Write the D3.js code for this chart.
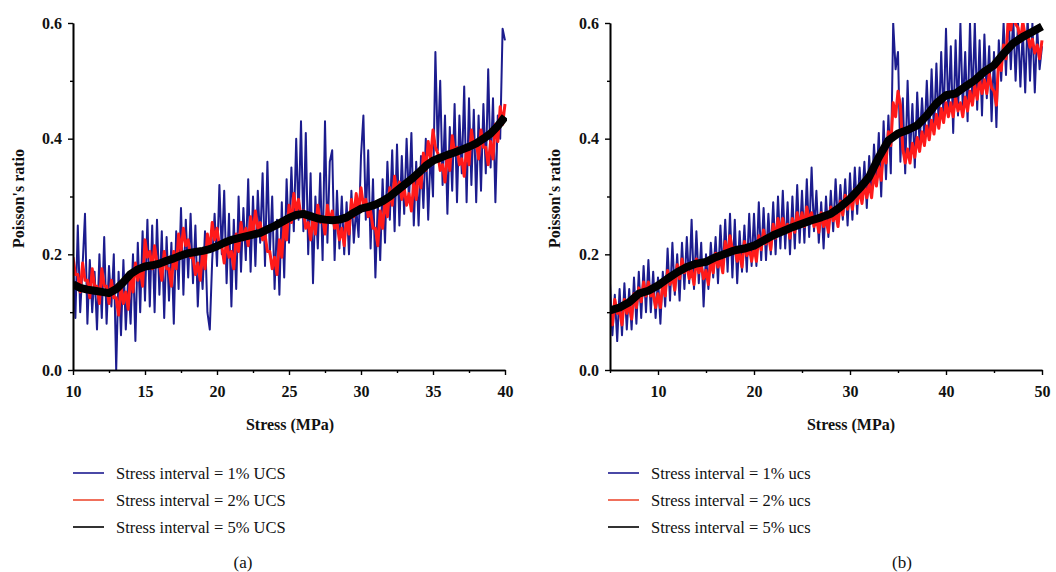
<!DOCTYPE html>
<html>
<head>
<meta charset="utf-8">
<script src="https://cdn.jsdelivr.net/npm/d3@7/dist/d3.min.js"></script>
<style>
  html, body { margin: 0; padding: 0; background: #fff; }
  svg { display: block; }
</style>
</head>
<body>
<svg id="chart" width="1056" height="572"></svg>
<script>
// ---------------- DATA ----------------
// Panel (a): stress range 10..40 MPa, samples evenly spaced along stress
const stressRangeA = [10, 40];
const xTicksA = [10, 15, 20, 25, 30, 35, 40];
const xMinorA = [12.5, 17.5, 22.5, 27.5, 32.5, 37.5];
// Panel (b): stress range 5..50 MPa
const stressRangeB = [5, 50];
const xTicksB = [10, 20, 30, 40, 50];
const xMinorB = [5, 15, 25, 35, 45];
const yTicks = [0, 0.2, 0.4, 0.6];
const yMinor = [0.1, 0.3, 0.5];

// (a) Stress interval = 1% UCS
const blueA = [
  0.19, 0.09, 0.25, 0.10, 0.18, 0.27,
  0.08, 0.19, 0.10, 0.17, 0.07, 0.20,
  0.09, 0.23, 0.08, 0.18, 0.11, 0.20,
  0.00, 0.17, 0.06, 0.19, 0.07, 0.16,
  0.08, 0.20, 0.05, 0.22, 0.10, 0.24,
  0.12, 0.26, 0.11, 0.25, 0.10, 0.26,
  0.13, 0.24, 0.09, 0.23, 0.12, 0.22,
  0.08, 0.24, 0.14, 0.28, 0.13, 0.26,
  0.16, 0.27, 0.15, 0.25, 0.11, 0.21,
  0.14, 0.24, 0.10, 0.07, 0.19, 0.27,
  0.18, 0.32, 0.20, 0.31, 0.15, 0.27,
  0.11, 0.26, 0.14, 0.30, 0.17, 0.28,
  0.19, 0.33, 0.17, 0.30, 0.18, 0.31,
  0.22, 0.34, 0.18, 0.36, 0.20, 0.30,
  0.14, 0.26, 0.13, 0.29, 0.16, 0.33,
  0.22, 0.35, 0.24, 0.40, 0.26, 0.43,
  0.24, 0.41, 0.20, 0.34, 0.15, 0.30,
  0.21, 0.34, 0.19, 0.43, 0.22, 0.36,
  0.38, 0.19, 0.31, 0.21, 0.30, 0.20,
  0.29, 0.20, 0.31, 0.22, 0.28, 0.23,
  0.37, 0.44, 0.26, 0.38, 0.21, 0.33,
  0.16, 0.29, 0.19, 0.33, 0.22, 0.36,
  0.26, 0.38, 0.24, 0.39, 0.25, 0.37,
  0.27, 0.40, 0.29, 0.41, 0.25, 0.36,
  0.25, 0.37, 0.28, 0.40, 0.26, 0.38,
  0.30, 0.55, 0.38, 0.50, 0.32, 0.44,
  0.27, 0.42, 0.31, 0.46, 0.29, 0.44,
  0.34, 0.49, 0.29, 0.47, 0.32, 0.45,
  0.29, 0.44, 0.31, 0.46, 0.34, 0.52,
  0.35, 0.47, 0.29, 0.44, 0.40, 0.59,
  0.57
];
// (a) Stress interval = 2% UCS
const redA = [
  0.195, 0.165, 0.165, 0.135, 0.185, 0.155,
  0.155, 0.125, 0.175, 0.145, 0.145, 0.115,
  0.175, 0.145, 0.145, 0.115, 0.155, 0.125,
  0.125, 0.095, 0.145, 0.115, 0.135, 0.105,
  0.165, 0.135, 0.185, 0.155, 0.175, 0.145,
  0.225, 0.195, 0.205, 0.175, 0.215, 0.185,
  0.185, 0.155, 0.205, 0.175, 0.175, 0.145,
  0.205, 0.175, 0.235, 0.205, 0.245, 0.215,
  0.225, 0.195, 0.195, 0.165, 0.185, 0.155,
  0.205, 0.175, 0.235, 0.205, 0.255, 0.225,
  0.245, 0.215, 0.215, 0.185, 0.225, 0.195,
  0.205, 0.175, 0.235, 0.205, 0.255, 0.225,
  0.245, 0.215, 0.265, 0.235, 0.275, 0.245,
  0.255, 0.225, 0.235, 0.205, 0.205, 0.175,
  0.195, 0.165, 0.225, 0.195, 0.255, 0.225,
  0.285, 0.255, 0.305, 0.275, 0.295, 0.265,
  0.275, 0.245, 0.255, 0.225, 0.265, 0.235,
  0.285, 0.255, 0.265, 0.235, 0.285, 0.255,
  0.275, 0.245, 0.255, 0.225, 0.245, 0.215,
  0.265, 0.235, 0.295, 0.265, 0.305, 0.275,
  0.315, 0.285, 0.295, 0.265, 0.275, 0.245,
  0.245, 0.215, 0.275, 0.245, 0.295, 0.265,
  0.315, 0.285, 0.335, 0.305, 0.325, 0.295,
  0.315, 0.285, 0.305, 0.275, 0.325, 0.295,
  0.345, 0.315, 0.375, 0.345, 0.395, 0.365,
  0.415, 0.385, 0.375, 0.345, 0.355, 0.325,
  0.375, 0.345, 0.405, 0.375, 0.385, 0.355,
  0.365, 0.335, 0.385, 0.355, 0.415, 0.385,
  0.395, 0.365, 0.415, 0.385, 0.385, 0.355,
  0.395, 0.365, 0.425, 0.395, 0.455, 0.425,
  0.46
];
// (a) Stress interval = 5% UCS
const blackA = [
  0.148, 0.142, 0.139, 0.137, 0.135, 0.133, 0.140, 0.152, 0.166, 0.174,
  0.179, 0.181, 0.184, 0.189, 0.193, 0.198, 0.202, 0.204, 0.206, 0.209,
  0.214, 0.220, 0.225, 0.228, 0.231, 0.234, 0.237, 0.243, 0.249, 0.256,
  0.263, 0.268, 0.270, 0.266, 0.262, 0.260, 0.259, 0.260, 0.264, 0.272,
  0.279, 0.282, 0.286, 0.292, 0.300, 0.310, 0.320, 0.330, 0.341, 0.353,
  0.362, 0.367, 0.372, 0.376, 0.381, 0.386, 0.392, 0.400, 0.409, 0.422,
  0.438
];

// (b) Stress interval = 1% ucs
const blueB = [
  0.15, 0.06, 0.13, 0.05,  0.14, 0.06, 0.15, 0.07,  0.14, 0.07, 0.16, 0.08,
  0.17, 0.09, 0.18, 0.10,  0.19, 0.10, 0.17, 0.09,  0.16, 0.08, 0.17, 0.11,
  0.21, 0.12, 0.22, 0.13,  0.20, 0.12, 0.22, 0.14,  0.23, 0.15, 0.26, 0.14,
  0.24, 0.15, 0.22, 0.11,  0.20, 0.14, 0.22, 0.16,  0.23, 0.15, 0.25, 0.17,
  0.26, 0.17, 0.27, 0.16,  0.26, 0.15, 0.24, 0.17,  0.25, 0.17, 0.27, 0.18,
  0.27, 0.18, 0.29, 0.19,  0.28, 0.19, 0.27, 0.20,  0.29, 0.20, 0.30, 0.21,
  0.31, 0.21, 0.29, 0.20,  0.30, 0.21, 0.32, 0.22,  0.31, 0.22, 0.33, 0.23,
  0.35, 0.24, 0.31, 0.22,  0.29, 0.21, 0.30, 0.23,  0.31, 0.24, 0.33, 0.25,
  0.32, 0.26, 0.33, 0.25,  0.34, 0.26, 0.35, 0.27,  0.35, 0.29, 0.36, 0.28,
  0.37, 0.30, 0.39, 0.32,  0.41, 0.30, 0.43, 0.33,  0.44, 0.34, 0.60, 0.52,
  0.55, 0.36, 0.47, 0.34,  0.50, 0.37, 0.46, 0.35,  0.48, 0.39, 0.47, 0.40,
  0.50, 0.40, 0.52, 0.41,  0.53, 0.42, 0.55, 0.43,  0.59, 0.44, 0.56, 0.41,
  0.57, 0.44, 0.60, 0.45,  0.55, 0.43, 0.60, 0.46,  0.60, 0.45, 0.57, 0.44,
  0.58, 0.47, 0.56, 0.43,  0.55, 0.42, 0.57, 0.50,  0.60, 0.51, 0.62, 0.52,
  0.61, 0.50, 0.60, 0.49,  0.59, 0.48, 0.61, 0.50,  0.60, 0.48, 0.59, 0.52,
  0.56
];
// (b) Stress interval = 2% ucs
const redB = [
  0.102, 0.078, 0.122, 0.098,  0.102, 0.078, 0.122, 0.098,  0.112, 0.088, 0.132, 0.108,
  0.142, 0.118, 0.152, 0.128,  0.152, 0.128, 0.132, 0.108,  0.132, 0.108, 0.152, 0.128,
  0.172, 0.148, 0.162, 0.138,  0.182, 0.158, 0.192, 0.168,  0.182, 0.158, 0.172, 0.148,
  0.192, 0.168, 0.182, 0.158,  0.172, 0.148, 0.192, 0.168,  0.202, 0.178, 0.192, 0.168,
  0.222, 0.198, 0.232, 0.208,  0.212, 0.188, 0.202, 0.178,  0.222, 0.198, 0.212, 0.188,
  0.212, 0.188, 0.232, 0.208,  0.242, 0.218, 0.232, 0.208,  0.252, 0.228, 0.262, 0.238,
  0.262, 0.238, 0.252, 0.228,  0.262, 0.238, 0.272, 0.248,  0.272, 0.248, 0.282, 0.258,
  0.272, 0.248, 0.262, 0.238,  0.272, 0.248, 0.262, 0.238,  0.282, 0.258, 0.272, 0.248,
  0.292, 0.268, 0.302, 0.278,  0.302, 0.278, 0.312, 0.288,  0.312, 0.288, 0.322, 0.298,
  0.322, 0.298, 0.342, 0.318,  0.352, 0.328, 0.382, 0.358,  0.412, 0.388, 0.462, 0.438,
  0.482, 0.458, 0.382, 0.358,  0.382, 0.358, 0.392, 0.368,  0.402, 0.378, 0.412, 0.388,
  0.422, 0.398, 0.432, 0.408,  0.442, 0.418, 0.452, 0.428,  0.462, 0.438, 0.462, 0.438,
  0.472, 0.448, 0.462, 0.438,  0.472, 0.448, 0.482, 0.458,  0.492, 0.468, 0.502, 0.478,
  0.502, 0.478, 0.512, 0.488,  0.482, 0.458, 0.542, 0.518,  0.562, 0.538, 0.612, 0.588,
  0.622, 0.598, 0.592, 0.568,  0.602, 0.578, 0.582, 0.558,  0.572, 0.548, 0.562, 0.538,
  0.57
];
// (b) Stress interval = 5% ucs
const blackB = [
  0.103, 0.108, 0.117, 0.132, 0.137, 0.146, 0.158, 0.169, 0.178, 0.184,
  0.187, 0.195, 0.201, 0.207, 0.210, 0.215, 0.224, 0.233, 0.240, 0.247,
  0.253, 0.259, 0.264, 0.270, 0.282, 0.296, 0.314, 0.334, 0.368, 0.397,
  0.409, 0.415, 0.423, 0.440, 0.461, 0.475, 0.478, 0.490, 0.501, 0.516,
  0.527, 0.547, 0.565, 0.576, 0.585, 0.594
];

const legendA = ["Stress interval = 1% UCS", "Stress interval = 2% UCS", "Stress interval = 5% UCS"];
const legendB = ["Stress interval = 1% ucs", "Stress interval = 2% ucs", "Stress interval = 5% ucs"];
const panelLabels = ["(a)", "(b)"];
const yTitle = "Poisson's ratio";
const xTitle = "Stress (MPa)";

// ---------------- STYLE ----------------
const seriesColors = ["#1c1c8e", "#ff1a1a", "#000000"];
const seriesWidths = [2, 3, 8];
const legendColors = ["#4a48a6", "#f0705c", "#333333"];
const FONT = "'Liberation Serif', 'Times New Roman', serif";

const svg = d3.select("#chart");

function drawPanel(cfg) {
  const g = svg.append("g");
  const x = d3.scaleLinear().domain(cfg.range).range([cfg.left, cfg.right]);
  const y = d3.scaleLinear().domain([0, 0.6]).range([cfg.bottom, cfg.top]);

  const clipId = "clip" + cfg.id;
  svg.append("clipPath").attr("id", clipId)
    .append("rect")
    .attr("x", cfg.left).attr("y", cfg.top)
    .attr("width", cfg.right - cfg.left + 2).attr("height", cfg.bottom - cfg.top);

  const plot = g.append("g").attr("clip-path", `url(#${clipId})`);
  cfg.series.forEach((vals, si) => {
    const n = vals.length;
    const step = (cfg.range[1] - cfg.range[0]) / (n - 1);
    const pts = vals.map((v, i) => [cfg.range[0] + i * step, v]);
    const line = d3.line().x(d => x(d[0])).y(d => y(d[1]));
    plot.append("path")
      .attr("d", line(pts))
      .attr("fill", "none")
      .attr("stroke", seriesColors[si])
      .attr("stroke-width", seriesWidths[si])
      .attr("stroke-linejoin", "round")
      .attr("stroke-linecap", "butt");
  });

  // Axes
  const xAxis = d3.axisBottom(x).tickValues(cfg.xTicks).tickSize(5).tickSizeOuter(0)
    .tickPadding(11).tickFormat(d3.format("d"));
  const xMinorAxis = d3.axisBottom(x).tickValues(cfg.xMinor).tickSize(3).tickSizeOuter(0).tickFormat("");
  const yAxis = d3.axisLeft(y).tickValues(yTicks).tickSize(5).tickSizeOuter(0)
    .tickPadding(6).tickFormat(d3.format(".1f"));
  const yMinorAxis = d3.axisLeft(y).tickValues(yMinor).tickSize(3).tickSizeOuter(0).tickFormat("");

  const styleAxis = sel => {
    sel.attr("font-family", FONT).attr("font-size", 16).attr("font-weight", "bold");
    sel.selectAll("path.domain").attr("stroke", "#000").attr("stroke-width", 1.6);
    sel.selectAll(".tick line").attr("stroke", "#000").attr("stroke-width", 1.4);
    sel.selectAll(".tick text").attr("fill", "#111");
  };

  g.append("g").attr("transform", `translate(0,${cfg.bottom})`).call(xMinorAxis).call(styleAxis);
  g.append("g").attr("transform", `translate(0,${cfg.bottom})`).call(xAxis).call(styleAxis);
  g.append("g").attr("transform", `translate(${cfg.left},0)`).call(yMinorAxis).call(styleAxis);
  g.append("g").attr("transform", `translate(${cfg.left},0)`).call(yAxis).call(styleAxis);

  // Titles
  g.append("text")
    .attr("x", cfg.xTitleX).attr("y", 430)
    .attr("text-anchor", "middle")
    .attr("font-family", FONT).attr("font-size", 16).attr("font-weight", "bold").attr("fill", "#111")
    .text(xTitle);
  g.append("text")
    .attr("transform", `translate(${cfg.yTitleX},${(cfg.top + cfg.bottom) / 2 + 2}) rotate(-90)`)
    .attr("text-anchor", "middle")
    .attr("font-family", FONT).attr("font-size", 16).attr("font-weight", "bold").attr("fill", "#111")
    .text(yTitle);

  // Legend
  const ly = d3.scalePoint().domain(d3.range(cfg.legend.length)).range([473, 527]);
  cfg.legend.forEach((txt, i) => {
    g.append("line")
      .attr("x1", cfg.legendX).attr("x2", cfg.legendX + 31)
      .attr("y1", ly(i)).attr("y2", ly(i))
      .attr("stroke", legendColors[i]).attr("stroke-width", 2);
    g.append("text")
      .attr("x", cfg.legendX + 43).attr("y", ly(i))
      .attr("dy", "0.35em")
      .attr("font-family", FONT).attr("font-size", 16.5).attr("fill", "#111")
      .text(txt);
  });

  g.append("text")
    .attr("x", cfg.labelX).attr("y", 568)
    .attr("text-anchor", "middle")
    .attr("font-family", FONT).attr("font-size", 17).attr("fill", "#111")
    .text(cfg.label);
}

drawPanel({
  id: "a", range: stressRangeA, xTicks: xTicksA, xMinor: xMinorA,
  left: 73, right: 505, top: 23, bottom: 370,
  series: [blueA, redA, blackA], legend: legendA,
  xTitleX: 290, yTitleX: 24, legendX: 73, labelX: 243, label: panelLabels[0]
});
drawPanel({
  id: "b", range: stressRangeB, xTicks: xTicksB, xMinor: xMinorB,
  left: 610, right: 1042, top: 23, bottom: 370,
  series: [blueB, redB, blackB], legend: legendB,
  xTitleX: 851, yTitleX: 560, legendX: 608, labelX: 902, label: panelLabels[1]
});
</script>
</body>
</html>
